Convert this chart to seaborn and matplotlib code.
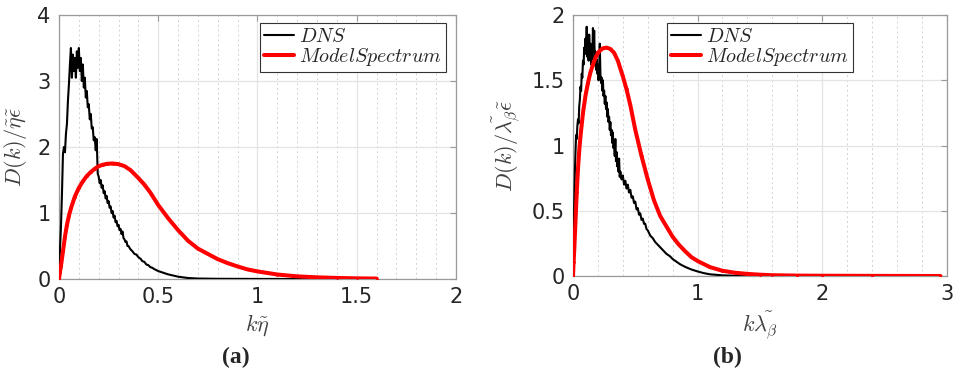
import numpy as np
import pandas as pd
import matplotlib
matplotlib.use("Agg")
import matplotlib.pyplot as plt
from matplotlib.ticker import MultipleLocator
import seaborn as sns

# ---------------- data ----------------
dns_a_k = [0.000, 0.005, 0.010, 0.015, 0.020, 0.025, 0.030, 0.035, 0.040, 0.045,
           0.050, 0.055, 0.060, 0.065, 0.070, 0.075, 0.080, 0.085, 0.090, 0.095,
           0.100, 0.105, 0.110, 0.115, 0.120, 0.125, 0.130, 0.135, 0.140, 0.145,
           0.150, 0.155, 0.160, 0.165, 0.170, 0.175, 0.180, 0.185, 0.190, 0.195,
           0.200, 0.205, 0.210, 0.215, 0.220, 0.225, 0.230, 0.235, 0.240, 0.245,
           0.250, 0.255, 0.260, 0.265, 0.270, 0.275, 0.280, 0.285, 0.290, 0.295,
           0.300, 0.305, 0.310, 0.315, 0.320, 0.325, 0.330, 0.335, 0.340, 0.345,
           0.350, 0.36, 0.37, 0.38, 0.39, 0.40, 0.41, 0.42, 0.43, 0.44, 0.45, 0.46,
           0.47, 0.48, 0.50, 0.52, 0.55, 0.60, 0.65, 0.70, 0.80, 1.00, 1.30]
dns_a_d = [0.10, 0.45, 0.80, 1.30, 1.90, 2.00, 1.92, 2.20, 2.35, 2.70,
           2.95, 3.25, 3.50, 3.05, 3.40, 3.15, 3.35, 3.05, 3.45, 3.20,
           3.50, 3.15, 3.35, 3.00, 3.25, 2.90, 3.05, 2.75, 2.85, 2.60,
           2.65, 2.42, 2.50, 2.28, 2.30, 2.10, 2.15, 1.95, 2.12, 1.60,
           1.55, 1.45, 1.50, 1.38, 1.42, 1.30, 1.33, 1.22, 1.26, 1.15,
           1.18, 1.08, 1.10, 1.00, 1.03, 0.93, 0.96, 0.86, 0.88, 0.80,
           0.82, 0.74, 0.76, 0.68, 0.72, 0.62, 0.60, 0.56, 0.57, 0.50,
           0.50, 0.45, 0.42, 0.38, 0.37, 0.33, 0.31, 0.27, 0.26, 0.22, 0.21, 0.18,
           0.17, 0.15, 0.12, 0.10, 0.07, 0.035, 0.015, 0.007, 0.003, 0.001, 0.0]

model_k = [0.0, 0.005, 0.01, 0.02, 0.03, 0.04, 0.05, 0.06, 0.08, 0.1, 0.12, 0.14, 0.16,
           0.18, 0.2, 0.22, 0.24, 0.27, 0.3, 0.33, 0.36, 0.4, 0.43, 0.46, 0.5, 0.55,
           0.6, 0.65, 0.7, 0.75, 0.8, 0.85, 0.9, 0.95, 1.0, 1.1, 1.2, 1.3, 1.4, 1.5,
           1.6, 1.8, 2.0, 2.4, 2.95]
model_d = [0.0, 0.11, 0.2, 0.42, 0.64, 0.82, 0.96, 1.07, 1.25, 1.38, 1.48, 1.56, 1.62,
           1.67, 1.71, 1.73, 1.745, 1.75, 1.74, 1.71, 1.65, 1.53, 1.43, 1.31, 1.12, 0.92,
           0.74, 0.58, 0.46, 0.38, 0.30, 0.24, 0.19, 0.145, 0.115, 0.068, 0.04, 0.025,
           0.016, 0.01, 0.006, 0.003, 0.002, 0.001, 0.0]
model_a_kmax = 1.6

dns_b_k = [0.000, 0.005, 0.010, 0.015, 0.020, 0.025, 0.030, 0.035, 0.040, 0.045,
           0.050, 0.055, 0.060, 0.065, 0.070, 0.075, 0.080, 0.085, 0.090, 0.095,
           0.100, 0.105, 0.110, 0.115, 0.120, 0.125, 0.130, 0.135, 0.140, 0.145,
           0.150, 0.155, 0.160, 0.165, 0.170, 0.175, 0.180, 0.185, 0.190, 0.195,
           0.200, 0.205, 0.210, 0.215, 0.220, 0.225, 0.230, 0.235, 0.240, 0.245,
           0.250, 0.255, 0.260, 0.265, 0.270, 0.275, 0.280, 0.285, 0.290, 0.295,
           0.300, 0.305, 0.310, 0.315, 0.320, 0.325, 0.330, 0.335, 0.340, 0.345,
           0.350, 0.355, 0.360, 0.365, 0.370, 0.375, 0.38, 0.39, 0.40, 0.41, 0.42,
           0.43, 0.44, 0.45, 0.46, 0.47, 0.48, 0.49, 0.50, 0.51, 0.52, 0.53, 0.54,
           0.55, 0.56, 0.57, 0.58, 0.59, 0.60, 0.62, 0.64, 0.66, 0.68, 0.70, 0.72,
           0.75, 0.78, 0.80, 0.83, 0.86, 0.90, 0.95, 1.00, 1.05, 1.10, 1.20, 1.30, 1.45]
dns_b_d = [0.03, 0.30, 0.55, 0.80, 0.95, 1.08, 1.05, 1.15, 1.20, 1.17,
           1.30, 1.35, 1.45, 1.42, 1.55, 1.52, 1.65, 1.62, 1.75, 1.70,
           1.82, 1.75, 1.91, 1.68, 1.80, 1.65, 1.85, 1.70, 1.78, 1.62,
           1.75, 1.66, 1.90, 1.72, 1.88, 1.65, 1.72, 1.58, 1.66, 1.55,
           1.62, 1.50, 1.58, 1.78, 1.55, 1.48, 1.52, 1.42, 1.50, 1.38,
           1.42, 1.32, 1.38, 1.28, 1.33, 1.22, 1.28, 1.18, 1.22, 1.12,
           1.18, 1.08, 1.12, 1.02, 1.10, 0.98, 1.02, 0.92, 1.05, 0.88,
           0.95, 0.84, 0.88, 0.80, 0.90, 0.76, 0.80, 0.74, 0.77, 0.70, 0.73,
           0.67, 0.70, 0.64, 0.66, 0.60, 0.61, 0.56, 0.57, 0.51, 0.52, 0.47, 0.48,
           0.43, 0.44, 0.40, 0.40, 0.36, 0.35, 0.31, 0.29, 0.26, 0.24, 0.22, 0.20,
           0.17, 0.15, 0.13, 0.11, 0.09, 0.07, 0.05, 0.035, 0.022, 0.013, 0.005, 0.002, 0.0]

xticks_a = [0, 0.5, 1, 1.5, 2]
xticklabels_a = ["0", "0.5", "1", "1.5", "2"]
yticks_a = [0, 1, 2, 3, 4]
yticklabels_a = ["0", "1", "2", "3", "4"]
xticks_b = [0, 1, 2, 3]
xticklabels_b = ["0", "1", "2", "3"]
yticks_b = [0, 0.5, 1, 1.5, 2]
yticklabels_b = ["0", "0.5", "1", "1.5", "2"]

# ---------------- style ----------------
sns.set_theme(style="white")
plt.rcParams["font.family"] = ["DejaVu Sans"]
plt.rcParams["mathtext.fontset"] = "cm"

TICK_C = "#262626"
LABEL_C = "#404040"
SPINE_C = "#9a9a9a"

fig = plt.figure(figsize=(9.54, 3.71), dpi=100)
ax_a = fig.add_axes([59 / 954, 1 - 279 / 371, (456 - 59) / 954, (279 - 15) / 371])
ax_b = fig.add_axes([573 / 954, 1 - 276 / 371, (946.7 - 573) / 954, (276 - 15) / 371])

df_model = pd.DataFrame({"k": model_k, "D": model_d})


def draw(ax, dk, dd, dfm, xmax, ymax, xt, xtl, yt, ytl, minor, xlabel, ylabel,
         legloc, anchor):
    df_dns = pd.DataFrame({"k": dk, "D": dd})
    sns.lineplot(data=df_dns, x="k", y="D", ax=ax, color="black", lw=1.5,
                 estimator=None, sort=False, label="$DNS$", zorder=3)
    sns.lineplot(data=dfm, x="k", y="D", ax=ax, color="#ff0000", lw=2.9,
                 marker=".", markersize=4, markeredgewidth=0, estimator=None,
                 sort=False, label="$ModelSpectrum$", zorder=4)
    ax.set_xlim(0, xmax)
    ax.set_ylim(0, ymax)
    ax.set_xticks(xt)
    ax.set_xticklabels(xtl)
    ax.set_yticks(yt)
    ax.set_yticklabels(ytl)
    ax.xaxis.set_minor_locator(MultipleLocator(minor))
    ax.grid(True, which="major", color="#e4e4e4", lw=0.9, ls="-")
    ax.grid(True, which="minor", axis="x", color="#d2d2d2", lw=0.7, ls=(0, (2, 3)))
    ax.set_axisbelow(True)
    ax.tick_params(which="both", direction="in", top=True, right=True,
                   colors=SPINE_C, labelcolor=TICK_C, labelsize=15)
    ax.tick_params(which="major", length=4, width=0.8, pad=6)
    ax.tick_params(which="minor", length=0)
    for s in ax.spines.values():
        s.set_color(SPINE_C)
        s.set_linewidth(0.9)
    ax.set_xlabel(xlabel, fontsize=16, color=LABEL_C, labelpad=4)
    ax.set_ylabel(ylabel, fontsize=16, color=LABEL_C, labelpad=6)
    leg = ax.legend(loc=legloc, bbox_to_anchor=anchor, fontsize=14.5, frameon=True,
                    fancybox=False, edgecolor="#333333", framealpha=1,
                    handlelength=1.5, handletextpad=0.25, borderpad=0.2,
                    labelspacing=0.02, borderaxespad=0.0)
    leg.get_frame().set_linewidth(0.8)


draw(ax_a, dns_a_k, dns_a_d, df_model[df_model["k"] <= model_a_kmax], 2, 4,
     xticks_a, xticklabels_a, yticks_a, yticklabels_a,
     0.1, r"$k\tilde{\eta}$", r"$D(k)/\tilde{\eta}\tilde{\epsilon}$",
     "upper right", (0.975, 0.97))
draw(ax_b, dns_b_k, dns_b_d, df_model, 3, 2,
     xticks_b, xticklabels_b, yticks_b, yticklabels_b,
     0.2, r"$k\tilde{\lambda_\beta}$", r"$D(k)/\tilde{\lambda_\beta}\tilde{\epsilon}$",
     "upper center", (0.5, 0.97))

fig.text(236 / 954, 1 - 357 / 371, "(a)", ha="center", va="center", fontsize=17,
         fontweight="bold", family=["Liberation Serif", "DejaVu Serif"])
fig.text(727 / 954, 1 - 357 / 371, "(b)", ha="center", va="center", fontsize=17,
         fontweight="bold", family=["Liberation Serif", "DejaVu Serif"])

fig.savefig("out.png", dpi=100)
